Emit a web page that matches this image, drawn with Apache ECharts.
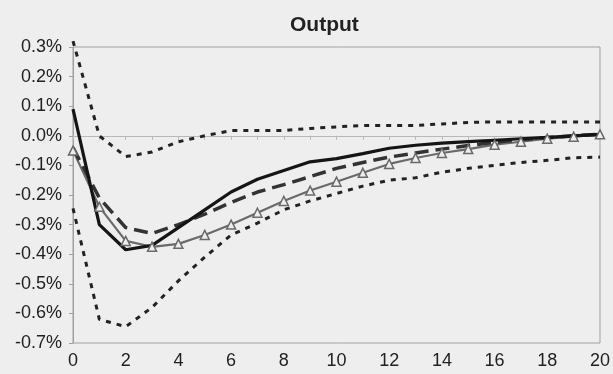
<!DOCTYPE html>
<html><head><meta charset="utf-8">
<script src="https://cdn.jsdelivr.net/npm/echarts@6/dist/echarts.min.js"></script>
<style>html,body{margin:0;padding:0;background:#eeeeee;}#c{width:613px;height:374px;}</style>
</head><body><div id="c"></div>
<script>
var horizons = [0,1,2,3,4,5,6,7,8,9,10,11,12,13,14,15,16,17,18,19,20];
var solidLine = [0.09,-0.30,-0.385,-0.37,-0.31,-0.25,-0.19,-0.147,-0.117,-0.088,-0.077,-0.06,-0.042,-0.032,-0.025,-0.02,-0.015,-0.01,-0.005,0.0,0.005];
var dashedLine = [-0.04,-0.21,-0.31,-0.33,-0.30,-0.265,-0.225,-0.19,-0.165,-0.138,-0.11,-0.09,-0.072,-0.058,-0.045,-0.033,-0.022,-0.013,-0.006,0.0,0.005];
var triangleLine = [-0.05,-0.24,-0.355,-0.375,-0.365,-0.335,-0.30,-0.26,-0.22,-0.185,-0.155,-0.125,-0.095,-0.075,-0.058,-0.045,-0.03,-0.02,-0.01,-0.003,0.005];
var upperBand = [0.32,0.0,-0.07,-0.055,-0.02,0.0,0.018,0.018,0.018,0.025,0.03,0.035,0.035,0.035,0.04,0.045,0.047,0.047,0.047,0.047,0.047];
var lowerBand = [-0.245,-0.62,-0.645,-0.58,-0.49,-0.41,-0.335,-0.295,-0.25,-0.22,-0.195,-0.17,-0.15,-0.142,-0.123,-0.11,-0.1,-0.09,-0.083,-0.074,-0.072];
var titleText = 'Output';

function pairs(arr){ return horizons.map(function(h,i){ return [h, arr[i]]; }); }

var chart = echarts.init(document.getElementById('c'));
chart.setOption({
  backgroundColor: '#eeeeee',
  animation: false,
  title: { text: titleText, left: 285, top: 10,
    textStyle: { fontFamily: 'Liberation Sans', fontWeight: 'bold', fontSize: 21, color: '#222' } },
  grid: { left: 73, right: 10, top: 47, bottom: 31, show: true, borderColor: '#a0a0a0', borderWidth: 1, backgroundColor: 'transparent' },
  xAxis: [
    { type: 'value', position: 'bottom', min: 0, max: 20, interval: 2,
      axisLine: { show: false, onZero: false }, axisTick: { show: false }, splitLine: { show: false },
      axisLabel: { fontFamily: 'Liberation Sans', fontSize: 18, color: '#222', margin: 9 } },
    { type: 'value', position: 'top', min: 0, max: 20, interval: 1,
      axisLine: { show: true, onZero: true, lineStyle: { color: '#b8b8b8', width: 1 } },
      axisTick: { show: true, inside: true, length: 4, lineStyle: { color: '#b8b8b8' } },
      axisLabel: { show: false }, splitLine: { show: false } }
  ],
  yAxis: { type: 'value', min: -0.7, max: 0.3, interval: 0.1,
    axisLine: { show: true, onZero: false, lineStyle: { color: '#a0a0a0' } },
    axisTick: { show: true, length: 4, lineStyle: { color: '#a0a0a0' } },
    splitLine: { show: false },
    axisLabel: { fontFamily: 'Liberation Sans', fontSize: 18, color: '#222', margin: 11,
      formatter: function(v){ if (Math.abs(v) < 1e-9) v = 0; return v.toFixed(1) + '%'; } } },
  series: [
    { type: 'line', xAxisIndex: 0, data: pairs(upperBand), symbol: 'none', clip: false,
      lineStyle: { color: '#222', width: 3, type: [5, 6] } },
    { type: 'line', xAxisIndex: 0, data: pairs(lowerBand), symbol: 'none',
      lineStyle: { color: '#222', width: 3, type: [5, 6] } },
    { type: 'line', xAxisIndex: 0, data: pairs(triangleLine), symbol: 'triangle', symbolSize: 9,
      itemStyle: { color: '#eeeeee', borderColor: '#6a6a6a', borderWidth: 1.5 },
      lineStyle: { color: '#6a6a6a', width: 2.2 } },
    { type: 'line', xAxisIndex: 0, data: pairs(dashedLine), symbol: 'none',
      lineStyle: { color: '#333', width: 3.5, type: [14, 7] } },
    { type: 'line', xAxisIndex: 0, data: pairs(solidLine), symbol: 'none',
      lineStyle: { color: '#151515', width: 3.2 } }
  ]
});
</script></body></html>
